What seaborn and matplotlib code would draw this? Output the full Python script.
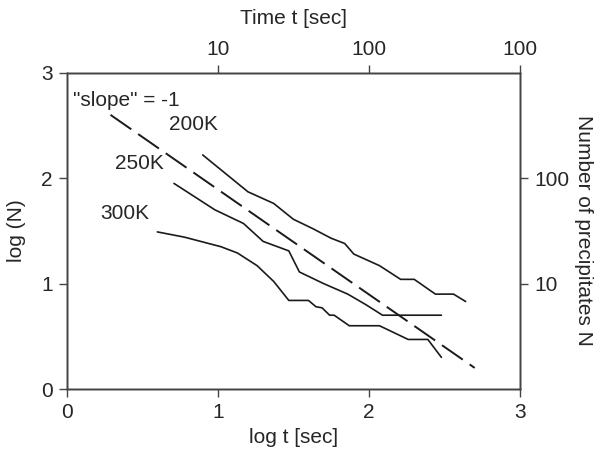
import pandas as pd
import matplotlib.pyplot as plt
import seaborn as sns

# values (log t, log N)
t_200 = [0.90, 1.20, 1.37, 1.50, 1.63, 1.75, 1.84, 1.90, 2.07, 2.21, 2.30, 2.44, 2.56, 2.64]
n_200 = [2.22, 1.87, 1.76, 1.61, 1.52, 1.43, 1.38, 1.28, 1.17, 1.04, 1.04, 0.90, 0.90, 0.83]

t_250 = [0.71, 0.98, 1.17, 1.30, 1.47, 1.54, 1.70, 1.86, 1.98, 2.09, 2.48]
n_250 = [1.95, 1.70, 1.57, 1.40, 1.31, 1.11, 1.00, 0.90, 0.80, 0.70, 0.70]

t_300 = [0.60, 0.78, 1.02, 1.13, 1.26, 1.37, 1.47, 1.60, 1.65, 1.69, 1.74, 1.77,
         1.87, 2.07, 2.26, 2.39, 2.48]
n_300 = [1.49, 1.44, 1.35, 1.29, 1.17, 1.02, 0.84, 0.84, 0.78, 0.77, 0.70, 0.70,
         0.60, 0.60, 0.47, 0.47, 0.30]

slope_t = [0.29, 2.70]
slope_n = [2.60, 0.20]

ticks_main = [0, 1, 2, 3]
top_ticks = [1, 2, 3]
top_labels = ['10', '100', '100']
right_ticks = [1, 2]
right_labels = ['10', '100']

sns.set_style('ticks')
plt.rcParams['font.family'] = ['Liberation Sans', 'DejaVu Sans']
fs = 15

fig = plt.figure(figsize=(5.96, 4.59), dpi=100)
ax = fig.add_axes([0.1119, 0.1525, 0.7606, 0.6891])

line_col = '#1a1a1a'
for t, n in [(t_200, n_200), (t_250, n_250), (t_300, n_300)]:
    df = pd.DataFrame({'t': t, 'n': n})
    sns.lineplot(data=df, x='t', y='n', ax=ax, sort=False, estimator=None,
                 color=line_col, lw=1.2)

dash_df = pd.DataFrame({'t': slope_t, 'n': slope_n})
sns.lineplot(data=dash_df, x='t', y='n', ax=ax, color=line_col, lw=1.4,
             linestyle=(0, (13, 4.3)))

ax.text(0.04, 2.74, '"slope" = -1', fontsize=fs, va='center', ha='left')
ax.text(0.68, 2.51, '200K', fontsize=fs, va='center', ha='left')
ax.text(0.32, 2.14, '250K', fontsize=fs, va='center', ha='left')
ax.text(0.22, 1.66, '300K', fontsize=fs, va='center', ha='left')

ax.set_xlim(0, 3)
ax.set_ylim(0, 3)
ax.set_xticks(ticks_main)
ax.set_yticks(ticks_main)
ax.set_xlabel('log t [sec]', fontsize=fs, va='center')
ax.xaxis.set_label_coords(0.5, -0.152)
ax.set_ylabel('log (N)', fontsize=fs, va='center')
ax.yaxis.set_label_coords(-0.11, 0.5)

ax_top = ax.twiny()
ax_top.set_xlim(0, 3)
ax_top.set_xticks(top_ticks)
ax_top.set_xticklabels(top_labels)
ax_top.set_xlabel('Time t [sec]', fontsize=fs, va='center')
ax_top.xaxis.set_label_coords(0.5, 1.170)

ax_right = ax.twinx()
ax_right.set_ylim(0, 3)
ax_right.set_yticks(right_ticks)
ax_right.set_yticklabels(right_labels)
ax_right.set_ylabel('Number of precipitates N', fontsize=fs, rotation=-90,
                    va='center')
ax_right.yaxis.set_label_coords(1.139, 0.5)

for a in (ax, ax_top, ax_right):
    for s in a.spines.values():
        s.set_visible(True)
        s.set_color('#444444')
        s.set_linewidth(1.0)
    a.tick_params(direction='out', length=6, width=1.0, color='#444444',
                  labelsize=fs, pad=4)

fig.savefig('out.png', dpi=100)
